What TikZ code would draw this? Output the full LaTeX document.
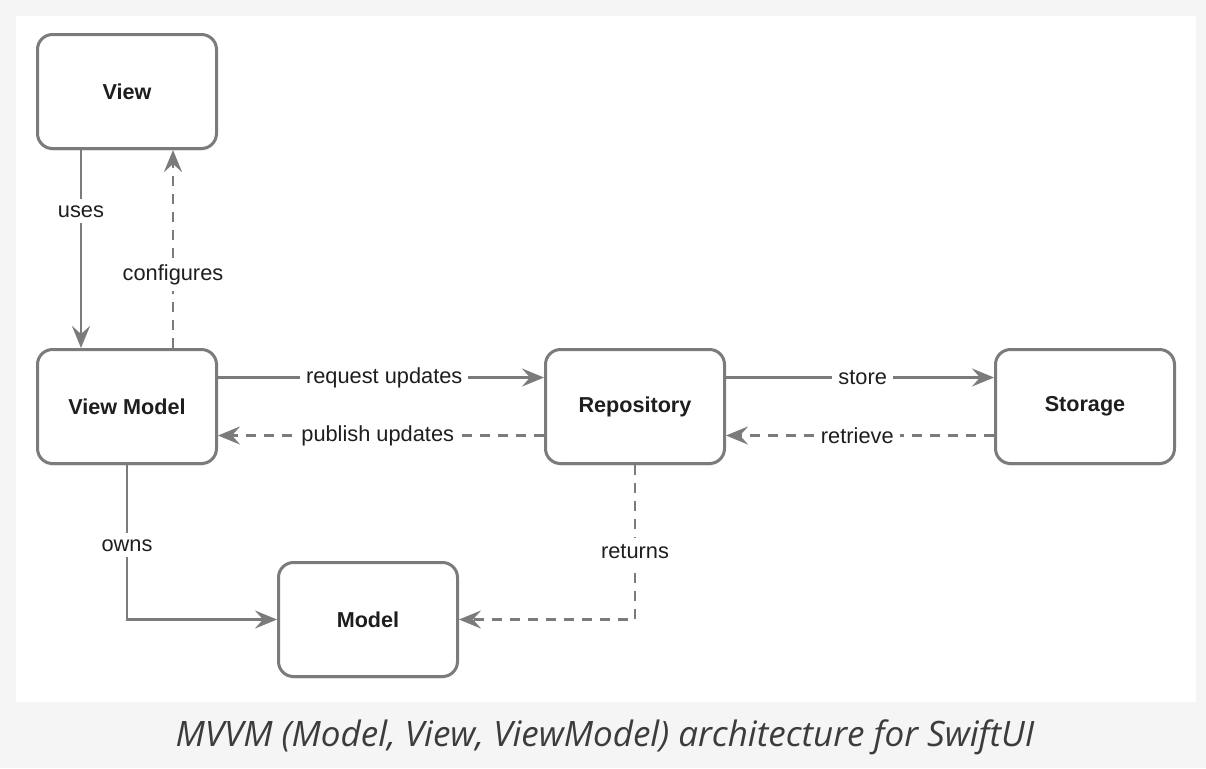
\documentclass[tikz,border=0pt]{standalone}
\usepackage{fontspec}
\setmainfont{Liberation Sans}
\newfontfamily\capfont{Open Sans}
\usetikzlibrary{arrows.meta,shadows}
\definecolor{kline}{HTML}{7B7B7B}
\definecolor{ktext}{HTML}{1E1E1E}
\definecolor{kback}{HTML}{F5F5F5}
\definecolor{kcap}{HTML}{3C3C3C}
\tikzset{
  kbox/.style={draw=kline,line width=1.5pt,rounded corners=7.5pt,fill=white,
    minimum width=89.5pt,minimum height=57pt,text=ktext,
    font=\fontsize{10.8}{13}\selectfont\bfseries,
    drop shadow={opacity=0.12,shadow xshift=0pt,shadow yshift=-1.2pt}},
  klink/.style={draw=kline,line width=1.4pt,
    -{Stealth[length=11pt,width=9pt,inset=4pt]}},
  kdash/.style={klink,dash pattern=on 5pt off 4pt},
  klabel/.style={fill=white,inner sep=3pt,text=ktext,
    font=\fontsize{10.9}{13}\selectfont}
}
\begin{document}
\begin{tikzpicture}[x=0.5pt,y=-0.5pt]
\pgfmathsetmacro{\kdx}{23}
\pgfmathsetmacro{\kdy}{14.5}
% background and panel
\fill[kback](0,0)rectangle(1206,768);
\fill[white](16,16)rectangle(1196,702);
\useasboundingbox(0,0)rectangle(1206,768);
% boxes
\node[kbox](vw) at (127,91.5){View};
\node[kbox](vm) at (127,406.5){View Model};
\node[kbox](rp) at (635,406.5){Repository};
\node[kbox](st) at (1085,406.5){Storage};
\node[kbox](md) at (368,619.5){Model};
% connectors
\draw[klink]([xshift=-\kdx pt]vw.south)--([xshift=-\kdx pt]vm.north)node[klabel,pos=0.31]{uses};
\draw[kdash]([xshift=\kdx pt]vm.north)--([xshift=\kdx pt]vw.south)node[klabel,pos=0.37]{configures};
\foreach \ka/\kb/\kt in {vm/rp/request updates,rp/st/store}{
  \draw[klink]([yshift=\kdy pt]\ka.east)--([yshift=\kdy pt]\kb.west)node[klabel,pos=0.51]{\kt};}
\foreach \ka/\kb/\kt in {rp/vm/publish updates,st/rp/retrieve}{
  \draw[kdash]([yshift=-\kdy pt]\ka.west)--([yshift=-\kdy pt]\kb.east)node[klabel,pos=0.51]{\kt};}
\draw[klink](vm.south)|-(md.west)node[klabel,pos=0.26]{owns};
\draw[kdash](rp.south)|-(md.east)node[klabel,pos=0.28]{returns};
% caption
\node[font=\capfont\itshape\fontsize{17.5}{20}\selectfont,text=kcap](cap) at (605,737){MVVM (Model, View, ViewModel) architecture for SwiftUI};
\end{tikzpicture}
\end{document}
